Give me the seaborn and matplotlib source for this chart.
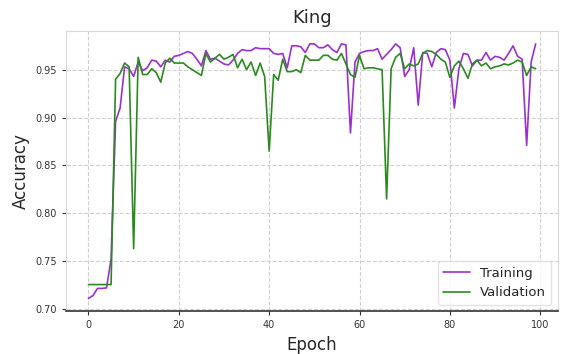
import matplotlib
matplotlib.use("Agg")
import matplotlib.pyplot as plt
import seaborn as sns
import pandas as pd
import numpy as np

epochs = list(range(100))
training = [
    0.711, 0.714, 0.7215, 0.7215, 0.722, 0.752, 0.896, 0.910, 0.953, 0.951,
    0.943, 0.958, 0.949, 0.952, 0.960, 0.959, 0.953, 0.960, 0.958, 0.964,
    0.965, 0.967, 0.969, 0.967, 0.961, 0.954, 0.970, 0.961, 0.962, 0.959,
    0.956, 0.955, 0.960, 0.967, 0.971, 0.970, 0.970, 0.973, 0.972, 0.972,
    0.972, 0.967, 0.966, 0.967, 0.952, 0.975, 0.975, 0.974, 0.968, 0.977,
    0.977, 0.973, 0.973, 0.976, 0.971, 0.968, 0.977, 0.976, 0.884, 0.958,
    0.967, 0.969, 0.970, 0.970, 0.972, 0.961, 0.966, 0.971, 0.977, 0.973,
    0.943, 0.950, 0.973, 0.913, 0.968, 0.967, 0.953, 0.968, 0.972, 0.971,
    0.960, 0.910, 0.951, 0.967, 0.966, 0.954, 0.960, 0.960, 0.968, 0.960,
    0.964, 0.963, 0.960, 0.967, 0.975, 0.964, 0.961, 0.871, 0.958, 0.977,
]
validation = [
    0.7255, 0.7255, 0.7255, 0.7255, 0.7255, 0.7255, 0.940, 0.946, 0.957, 0.953,
    0.763, 0.963, 0.945, 0.945, 0.951, 0.947, 0.937, 0.957, 0.962, 0.957,
    0.957, 0.957, 0.953, 0.950, 0.947, 0.944, 0.967, 0.958, 0.962, 0.966,
    0.961, 0.963, 0.966, 0.952, 0.961, 0.950, 0.958, 0.944, 0.957, 0.943,
    0.865, 0.945, 0.939, 0.961, 0.948, 0.948, 0.950, 0.947, 0.965, 0.960,
    0.960, 0.960, 0.965, 0.965, 0.961, 0.960, 0.967, 0.956, 0.945, 0.942,
    0.965, 0.951, 0.952, 0.952, 0.951, 0.950, 0.815, 0.951, 0.963, 0.967,
    0.951, 0.956, 0.954, 0.956, 0.967, 0.970, 0.969, 0.966, 0.961, 0.958,
    0.942, 0.954, 0.959, 0.951, 0.941, 0.956, 0.960, 0.954, 0.957, 0.951,
    0.953, 0.954, 0.956, 0.955, 0.957, 0.960, 0.958, 0.944, 0.953, 0.951,
]
series_names = ["Training", "Validation"]
colors = ["#9b30d0", "#2a8a1e"]

df = pd.DataFrame({
    "Epoch": epochs * 2,
    "Accuracy": training + validation,
    "Series": [series_names[0]] * len(epochs) + [series_names[1]] * len(epochs),
})

sns.set_style("whitegrid")
plt.rcParams["font.family"] = ["DejaVu Sans"]

fig = plt.figure(figsize=(5.7, 3.54), dpi=100)
ax = fig.add_axes([0.116, 0.121, 0.863, 0.791])
sns.lineplot(data=df, x="Epoch", y="Accuracy", hue="Series",
             palette=dict(zip(series_names, colors)), linewidth=1.2, ax=ax)

ax.set_yticks([0.70, 0.75, 0.80, 0.85, 0.90, 0.95])
ax.set_xticks([0, 20, 40, 60, 80, 100])
ax.grid(True, linestyle="--", color="#d0d0d0", linewidth=0.8)
ax.tick_params(axis="both", labelsize=7, colors="#333333", length=3, width=0.8,
               left=True, bottom=True)
for s in ["top", "right", "left"]:
    ax.spines[s].set_color("#d8d8d8")
ax.spines["bottom"].set_color("#333333")
ax.spines["bottom"].set_linewidth(1.2)
ax.set_title("King", fontsize=13)
ax.set_xlabel("Epoch", fontsize=12)
ax.set_ylabel("Accuracy", fontsize=12)
leg = ax.legend(loc="lower right", fontsize=9.5, frameon=True)
leg.get_frame().set_edgecolor("#dddddd")

fig.savefig("out.png", dpi=100)
